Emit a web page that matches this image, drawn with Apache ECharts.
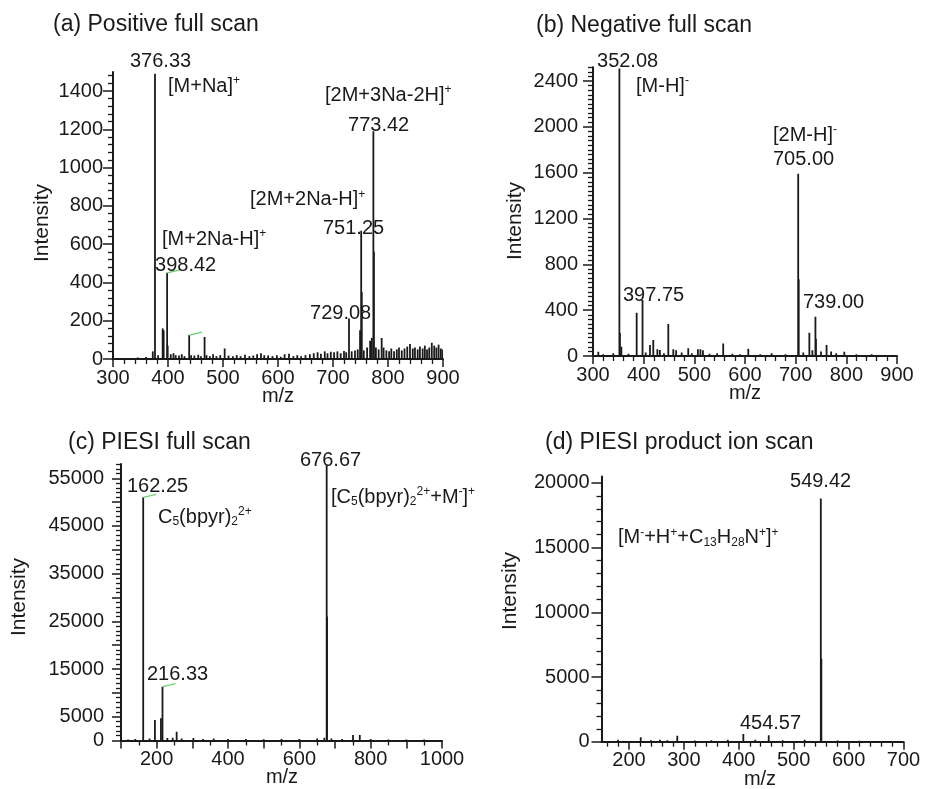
<!DOCTYPE html>
<html>
<head>
<meta charset="utf-8">
<script src="https://cdn.jsdelivr.net/npm/echarts@6/dist/echarts.min.js"></script>
<style>
  html, body { margin: 0; padding: 0; background: #ffffff; }
  #chart { width: 929px; height: 789px; }
</style>
</head>
<body>
<div id="chart"></div>
<script>
// ---------- (a) Positive full scan ----------
const mzA  = [345, 360, 372.3, 376.33, 382, 390.3, 392.1, 398.42, 399.4, 405, 410, 414, 420, 425, 430, 438.5, 442, 448, 455, 460, 466.5, 470, 476, 482, 488, 495, 503, 510, 518, 525, 532, 540, 548, 555, 562, 569, 575, 582, 590, 598, 605, 612, 620, 628, 635, 642, 650, 658, 665, 672, 678, 685, 690, 696, 702, 708, 714, 720, 724, 729.08, 734, 740, 745, 749.2, 751.25, 752.3, 756, 762, 767.5, 770.5, 773.42, 774.4, 778, 783, 788.5, 792, 797, 802, 806, 811, 816, 820, 825, 830, 835, 840, 845, 849, 854, 858, 863, 867, 871, 875, 879.6, 884, 888, 892, 896, 899];
const intA = [8, 10, 40, 1490, 20, 160, 150, 450, 70, 25, 30, 20, 18, 25, 15, 125, 20, 18, 22, 15, 115, 20, 15, 25, 15, 20, 55, 18, 15, 20, 15, 22, 15, 18, 25, 30, 20, 18, 15, 20, 12, 25, 28, 15, 20, 15, 20, 25, 30, 35, 28, 40, 30, 38, 35, 40, 30, 42, 35, 212, 40, 45, 50, 150, 670, 350, 45, 60, 95, 110, 1190, 560, 60, 50, 110, 60, 45, 40, 55, 40, 50, 60, 45, 55, 65, 78, 55, 60, 50, 65, 55, 70, 50, 60, 85, 70, 60, 75, 55, 50];
const xTicksA = [300, 400, 500, 600, 700, 800, 900];
const yTicksA = [0, 200, 400, 600, 800, 1000, 1200, 1400];
const peakLabA = [376.33, 398.42, 729.08, 751.25, 773.42];
const ionLabA = ['[M+Na]{sup|+}', '[M+2Na-H]{sup|+}', '[2M+2Na-H]{sup|+}', '[2M+3Na-2H]{sup|+}'];
const greenA = [398.42, 438.5];

// ---------- (b) Negative full scan ----------
const mzB  = [310.5, 320, 340, 352.08, 353.1, 356, 370, 386.2, 397.75, 404, 412.5, 419, 427, 432, 440, 448.6, 458.5, 464, 475, 488, 495, 507, 512, 517, 530, 545, 557, 575, 590, 606.5, 630, 652.6, 680, 705.0, 706.0, 715, 727, 733, 739.0, 740, 750, 761, 770, 780, 796, 820, 850];
const intB = [38, 15, 23, 2510, 200, 80, 20, 378, 489, 30, 96, 140, 58, 52, 25, 279, 58, 50, 30, 67, 25, 58, 60, 50, 20, 25, 110, 20, 15, 64, 15, 23, 15, 1590, 670, 30, 204, 50, 343, 150, 40, 96, 40, 25, 38, 15, 15];
const xTicksB = [300, 400, 500, 600, 700, 800, 900];
const yTicksB = [0, 400, 800, 1200, 1600, 2000, 2400];
const peakLabB = [352.08, 397.75, 705.0, 739.0];
const ionLabB = ['[M-H]{sup|-}', '[2M-H]{sup|-}'];

// ---------- (c) PIESI full scan ----------
const mzC  = [120, 140, 162.25, 180, 195.1, 212, 216.33, 230, 245, 256, 270, 303, 330, 360, 400, 450, 500, 550, 600, 650, 670, 676.67, 677.67, 690, 720, 750.5, 769.5, 800, 850, 900, 950];
const intC = [200, 300, 51000, 400, 4300, 4650, 11300, 500, 600, 1850, 400, 500, 300, 400, 300, 300, 250, 300, 300, 400, 600, 57800, 26000, 400, 300, 1150, 1150, 300, 200, 200, 200];
const xTicksC = [200, 400, 600, 800, 1000];
const yTicksC = [0, 5000, 15000, 25000, 35000, 45000, 55000];
const peakLabC = [162.25, 216.33, 676.67];
const ionLabC = ['C{sub|5}(bpyr){sub|2}{sup|2+}', '[C{sub|5}(bpyr){sub|2}{sup|2+}+M{sup|-}]{sup|+}'];
const greenC = [162.25, 216.33];

// ---------- (d) PIESI product ion scan ----------
const mzD  = [180, 221.4, 240, 256.5, 270, 288, 320, 350, 380, 408.3, 430, 454.57, 480, 520, 549.42, 550.42, 580, 620];
const intD = [150, 340, 120, 150, 120, 460, 100, 120, 150, 590, 150, 500, 120, 150, 18800, 6400, 100, 80];
const xTicksD = [200, 300, 400, 500, 600, 700];
const yTicksD = [0, 5000, 10000, 15000, 20000];
const peakLabD = [454.57, 549.42];
const ionLabD = ['[M{sup|-}+H{sup|+}+C{sub|13}H{sub|28}N{sup|+}]{sup|+}'];

// ---------- drawing ----------
const FONT = "'Liberation Sans', Arial, sans-serif";
const INK = '#1a1a1a';

function steps(from, to, step, skipEvery) {
  const out = [];
  for (let k = 0; from + k * step <= to + 1e-9; k++) {
    const v = +(from + k * step).toFixed(6);
    if (skipEvery && Math.abs(v / skipEvery - Math.round(v / skipEvery)) < 1e-9) continue;
    out.push(v);
  }
  return out;
}
function pairs(mz, inten) { return mz.map((m, i) => [m, inten[i]]); }
function heightAt(mz, inten, m) { return inten[mz.indexOf(m)]; }
const plain = v => String(v);

// panel frames and axis ranges
const panels = [
  { grid: { left: 113, top: 71.9, width: 330, height: 287.1 },
    x: { min: 300, max: 900, labels: xTicksA, major: xTicksA, minor: steps(300, 900, 20, 100) },
    y: { min: 0, max: 1500, labels: yTicksA, major: yTicksA, minor: steps(0, 1480, 40, 200), margin: 10, major_len: 10, minor_len: 5 } },
  { grid: { left: 593, top: 67.3, width: 304, height: 288.7 },
    x: { min: 300, max: 900, labels: xTicksB, major: xTicksB, minor: steps(300, 900, 20, 100) },
    y: { min: 0, max: 2520, labels: yTicksB, major: yTicksB, minor: steps(0, 2520, 40, 400), margin: 15, major_len: 10, minor_len: 5 } },
  { grid: { left: 121, top: 464, width: 321, height: 276.5 },
    x: { min: 100, max: 1000, labels: xTicksC, major: steps(100, 1000, 100), minor: steps(150, 1000, 100) },
    y: { min: 0, max: 58000, labels: yTicksC, major: steps(0, 55000, 5000), minor: steps(0, 58000, 1000, 5000), margin: 17, major_len: 9, minor_len: 5 } },
  { grid: { left: 601.5, top: 476.4, width: 302, height: 265.3 },
    x: { min: 150, max: 700, labels: xTicksD, major: xTicksD, minor: steps(160, 700, 20, 100) },
    y: { min: 0, max: 20500, labels: yTicksD, major: yTicksD, minor: steps(0, 20500, 1000, 5000), margin: 12, major_len: 10, minor_len: 5 } }
];

const xAxes = [], yAxes = [];
panels.forEach((p, gi) => {
  xAxes.push({
    type: 'value', gridIndex: gi, position: 'bottom', min: p.x.min, max: p.x.max,
    splitLine: { show: false },
    axisLine: { show: true, onZero: false, lineStyle: { color: INK, width: 2 } },
    axisTick: { show: true, length: 8, lineStyle: { color: INK, width: 1.5 }, customValues: p.x.major },
    axisLabel: { show: true, customValues: p.x.labels, formatter: plain, margin: 9, color: INK, fontSize: 20, fontFamily: FONT }
  });
  yAxes.push({
    type: 'value', gridIndex: gi, position: 'left', min: p.y.min, max: p.y.max,
    splitLine: { show: false },
    axisLine: { show: true, onZero: false, lineStyle: { color: INK, width: 2 } },
    axisTick: { show: true, length: p.y.major_len, lineStyle: { color: INK, width: 1.5 }, customValues: p.y.major },
    axisLabel: { show: true, customValues: p.y.labels, formatter: plain, margin: p.y.margin, color: INK, fontSize: 20, fontFamily: FONT }
  });
});
// overlay axes carrying only the short minor ticks
panels.forEach((p, gi) => {
  xAxes.push({
    type: 'value', gridIndex: gi, position: 'bottom', min: p.x.min, max: p.x.max,
    splitLine: { show: false }, axisLine: { show: false, onZero: false }, axisLabel: { show: false },
    axisTick: { show: true, length: 5, lineStyle: { color: INK, width: 1.3 }, customValues: p.x.minor }
  });
  yAxes.push({
    type: 'value', gridIndex: gi, position: 'left', min: p.y.min, max: p.y.max,
    splitLine: { show: false }, axisLine: { show: false, onZero: false }, axisLabel: { show: false },
    axisTick: { show: true, length: p.y.minor_len, lineStyle: { color: INK, width: 1.3 }, customValues: p.y.minor }
  });
});

function stickSeries(gi, data) {
  return {
    type: 'custom', xAxisIndex: gi, yAxisIndex: gi, data, clip: true, silent: true,
    encode: { x: 0, y: 1 },
    renderItem: (params, api) => {
      const top = api.coord([api.value(0), api.value(1)]);
      const base = api.coord([api.value(0), 0]);
      return { type: 'line', shape: { x1: top[0], y1: base[1], x2: top[0], y2: top[1] },
               style: { stroke: INK, lineWidth: 1.8 } };
    }
  };
}
function greenSeries(gi, data) {
  return {
    type: 'custom', xAxisIndex: gi, yAxisIndex: gi, data, clip: false, silent: true, z: 5,
    encode: { x: 0, y: 1 },
    renderItem: (params, api) => {
      const top = api.coord([api.value(0), api.value(1)]);
      return { type: 'line', shape: { x1: top[0], y1: top[1], x2: top[0] + 13, y2: top[1] - 3 },
               style: { stroke: '#6fd36f', lineWidth: 1.4 } };
    }
  };
}
const rich = {
  sup: { fontSize: 12, verticalAlign: 'top', color: INK, fontFamily: FONT, lineHeight: 22 },
  sub: { fontSize: 12, verticalAlign: 'bottom', color: INK, fontFamily: FONT, lineHeight: 22 }
};
// text layers sit on the overlay axes (same ranges), which also gives those axes data
function textSeries(gi, items) {
  return {
    type: 'scatter', xAxisIndex: gi + 4, yAxisIndex: gi + 4, symbolSize: 0, clip: false, silent: true, z: 6,
    itemStyle: { opacity: 1 },
    data: items.map(it => ({ name: it[0], value: [it[1], it[2]] })),
    label: { show: true, position: [0, 0], align: 'left', verticalAlign: 'middle', opacity: 1,
             formatter: p => p.name, color: INK, fontSize: 20, fontFamily: FONT, lineHeight: 22, rich }
  };
}
const f2 = v => v.toFixed(2);

// text placement in data coordinates: [text, m/z of left edge, intensity of text centre]
const textA = [
  [f2(peakLabA[0]), 330.9, 1557], [ionLabA[0], 400, 1426],
  [ionLabA[3], 685.5, 1379], [f2(peakLabA[4]), 727.3, 1222],
  [ionLabA[2], 549.1, 831], [f2(peakLabA[3]), 681.8, 684],
  [ionLabA[1], 389.1, 627], [f2(peakLabA[1]), 376.4, 486],
  [f2(peakLabA[2]), 658.2, 240]
];
const textB = [
  [f2(peakLabB[0]), 307.9, 2575], [ionLabB[0], 384.9, 2356],
  [ionLabB[1], 655.2, 1929], [f2(peakLabB[2]), 655.2, 1719],
  [f2(peakLabB[1]), 359.2, 524], [f2(peakLabB[3]), 714.4, 471]
];
const textC = [
  [f2(peakLabC[2]), 601.8, 58842], [f2(peakLabC[0]), 116.8, 53388],
  [ionLabC[0], 203.7, 46885], [ionLabC[1], 688.7, 51080],
  [f2(peakLabC[1]), 172.9, 13950]
];
const textD = [
  [f2(peakLabD[1]), 493.3, 20070], [ionLabD[0], 180, 15742],
  [f2(peakLabD[0]), 402.1, 1445]
];

const series = [
  stickSeries(0, pairs(mzA, intA)),
  stickSeries(1, pairs(mzB, intB)),
  stickSeries(2, pairs(mzC, intC)),
  stickSeries(3, pairs(mzD, intD)),
  greenSeries(0, greenA.map(m => [m, heightAt(mzA, intA, m)])),
  greenSeries(2, greenC.map(m => [m, heightAt(mzC, intC, m)])),
  textSeries(0, textA), textSeries(1, textB), textSeries(2, textC), textSeries(3, textD)
];

function txt(text, x, y, size, rot) {
  return { type: 'text', x, y, rotation: rot || 0, silent: true,
           style: { text, fill: INK, font: size + 'px ' + FONT, align: rot ? 'center' : 'left', verticalAlign: 'middle' } };
}
function centred(text, x, y, size) {
  return { type: 'text', x, y, silent: true,
           style: { text, fill: INK, font: size + 'px ' + FONT, align: 'center', verticalAlign: 'middle' } };
}
const graphic = [
  txt('(a) Positive full scan', 53, 25, 23),
  txt('(b) Negative full scan', 536, 26, 23),
  txt('(c) PIESI full scan', 68, 443, 23),
  txt('(d) PIESI product ion scan', 545, 443, 23),
  txt('Intensity', 42, 223, 21, Math.PI / 2),
  txt('Intensity', 515, 221, 21, Math.PI / 2),
  txt('Intensity', 19, 597, 21, Math.PI / 2),
  txt('Intensity', 510, 591, 21, Math.PI / 2),
  centred('m/z', 278, 396, 20),
  centred('m/z', 745, 393, 20),
  centred('m/z', 282, 777, 20),
  centred('m/z', 760, 779, 20)
];

const chart = echarts.init(document.getElementById('chart'), null, { renderer: 'canvas' });
chart.setOption({
  animation: false,
  backgroundColor: '#ffffff',
  grid: panels.map(p => Object.assign({ containLabel: false }, p.grid)),
  xAxis: xAxes,
  yAxis: yAxes,
  series,
  graphic
});
</script>
</body>
</html>
